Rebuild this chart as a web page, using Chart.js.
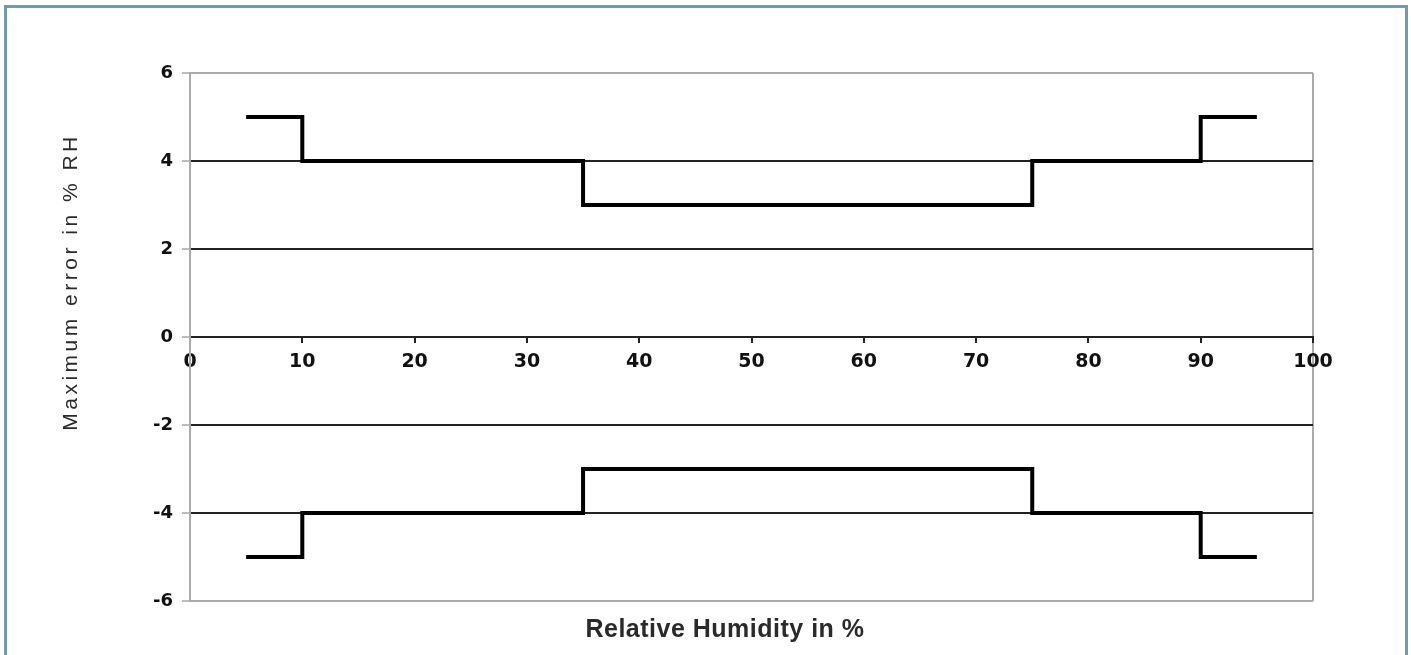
<!DOCTYPE html>
<html>
<head>
<meta charset="utf-8">
<script src="https://cdn.jsdelivr.net/npm/chart.js@4/dist/chart.umd.min.js"></script>
<style>
  body { margin: 0; background: #fff; }
  #frame {
    position: absolute; left: 4px; top: 5px; width: 1404px; height: 700px;
    box-sizing: border-box; border: 3px solid #7399ae;
  }
  #wrap { position: absolute; left: 0; top: 0; width: 1411px; height: 655px; }
</style>
</head>
<body>
<div id="frame"></div>
<div id="wrap"><canvas id="errChart"></canvas></div>
<script>
// humidity breakpoints (%), error limit holds from each point to the next
const rhPoints = [5, 10, 35, 75, 90, 95];
const upperError = [5, 4, 3, 4, 5, 5];
const lowerError = [-5, -4, -3, -4, -5, -5];
const xTitle = "Relative Humidity in %";
const yTitle = "Maximum error in % RH";

// ================= AXIS TITLES =================
const titlePlugin = {
  id: "titles",
  afterDraw(chart) {
    const ctx = chart.ctx;
    ctx.save();
    ctx.fillStyle = "#2a2a2a";
    ctx.textAlign = "center";
    ctx.textBaseline = "alphabetic";
    ctx.font = "bold 25px 'Liberation Sans', Arial, sans-serif";
    ctx.letterSpacing = "0.5px";
    ctx.fillText(xTitle, 725, 637);

    ctx.font = "21px 'Liberation Sans', Arial, sans-serif";
    ctx.letterSpacing = "3.5px";
    ctx.translate(77, 282);
    ctx.rotate(-Math.PI / 2);
    ctx.fillText(yTitle, 0, 0);
    ctx.restore();
  }
};

const makeSeries = vals => rhPoints.map((x, i) => ({ x: x, y: vals[i] }));

new Chart(document.getElementById("errChart"), {
  type: "line",
  data: {
    datasets: [
      {
        label: "Upper",
        data: makeSeries(upperError),
        borderColor: "#000",
        borderWidth: 4,
        stepped: "before",
        pointRadius: 0,
        fill: false
      },
      {
        label: "Lower",
        data: makeSeries(lowerError),
        borderColor: "#000",
        borderWidth: 4,
        stepped: "before",
        pointRadius: 0,
        fill: false
      }
    ]
  },
  options: {
    responsive: true,
    maintainAspectRatio: false,
    animation: false,
    layout: { padding: { left: 0, right: 98, top: 73, bottom: 54 } },
    plugins: { legend: { display: false }, tooltip: { enabled: false } },
    scales: {
      x: {
        type: "linear",
        position: { y: 0 },
        min: 0,
        max: 100,
        ticks: {
          stepSize: 10,
          color: "#111",
          padding: 9,
          maxRotation: 0,
          font: { family: "'DejaVu Sans'", weight: "bold", size: 19 }
        },
        grid: {
          lineWidth: 2,
          color: c => (c.tick && c.tick.value === 100 ? "#aaa" : "rgba(0,0,0,0)"),
          tickColor: "#222",
          tickLength: 5
        },
        border: { display: true, color: "#222", width: 2 }
      },
      y: {
        min: -6,
        max: 6,
        afterFit: scale => { scale.width = 190; },
        ticks: {
          stepSize: 2,
          color: "#111",
          padding: 9,
          font: { family: "'DejaVu Sans'", weight: "bold", size: 18 }
        },
        grid: {
          lineWidth: 2,
          color: c => (Math.abs(c.tick.value) === 6 ? "#aaa" : "#222"),
          tickColor: "#bbb",
          tickLength: 8
        },
        border: { display: true, color: "#aaa", width: 2 }
      }
    }
  },
  plugins: [titlePlugin]
});
</script>
</body>
</html>
